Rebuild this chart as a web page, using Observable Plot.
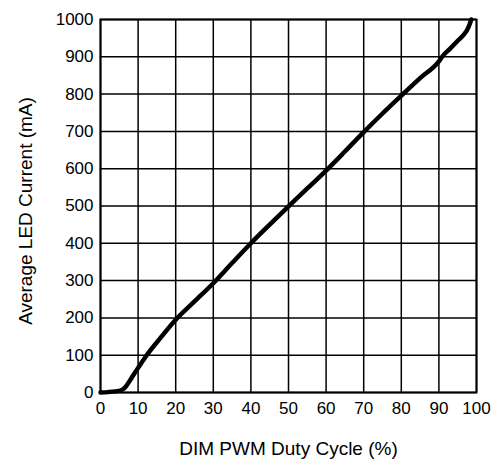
<!DOCTYPE html>
<html>
<head>
<meta charset="utf-8">
<script src="https://cdn.jsdelivr.net/npm/d3@7"></script>
<script src="https://cdn.jsdelivr.net/npm/@observablehq/plot@0.6"></script>
<style>
  html, body { margin: 0; padding: 0; background: #fff; }
</style>
</head>
<body>
<div id="chart"></div>
<script>
const duty = [0, 2, 4, 5.5, 6.5, 8, 10, 12, 16, 20, 25, 30, 35, 40, 45, 50, 55, 60, 65, 70, 75, 80, 85, 90, 91, 93, 95, 96.5, 97.5, 98.2, 98.6];
const current = [0, 1, 3, 6, 13, 35, 66, 96, 147, 195, 244, 293, 347, 400, 450, 499, 547, 595, 646, 698, 748, 796, 843, 888, 902, 922, 943, 958, 972, 988, 1000];
const xTicks = [0, 10, 20, 30, 40, 50, 60, 70, 80, 90, 100];
const yTicks = [0, 100, 200, 300, 400, 500, 600, 700, 800, 900, 1000];
const xLabel = "DIM PWM Duty Cycle (%)";
const yLabel = "Average LED Current (mA)";

const data = duty.map((d, i) => ({duty: d, current: current[i]}));

const chart = Plot.plot({
  width: 496,
  height: 459,
  marginLeft: 100,
  marginRight: 20,
  marginTop: 19,
  marginBottom: 67,
  style: {fontFamily: "'Liberation Sans', Arial, sans-serif", fontSize: "17px", color: "#000", background: "#fff"},
  x: {domain: [0, 100], ticks: xTicks, tickSize: 0, tickPadding: 9, tickFormat: d3.format("d"), label: null},
  y: {domain: [0, 1000], ticks: yTicks, tickSize: 0, tickPadding: 7, tickFormat: d3.format("d"), label: null},
  marks: [
    Plot.gridX(xTicks, {stroke: "#000", strokeOpacity: 1, strokeWidth: 1.5}),
    Plot.gridY(yTicks, {stroke: "#000", strokeOpacity: 1, strokeWidth: 1.5}),
    Plot.frame({stroke: "#000", strokeWidth: 2}),
    Plot.line(data, {x: "duty", y: "current", stroke: "#000", strokeWidth: 4.5, curve: "monotone-x"}),
    Plot.text([xLabel], {frameAnchor: "bottom", lineAnchor: "middle", dy: 56, fontSize: 19, fill: "#000"}),
    Plot.text([yLabel], {frameAnchor: "left", textAnchor: "middle", lineAnchor: "middle", dx: -75, dy: 5, rotate: -90, fontSize: 19, fill: "#000"})
  ]
});
document.getElementById("chart").appendChild(chart);
</script>
</body>
</html>
